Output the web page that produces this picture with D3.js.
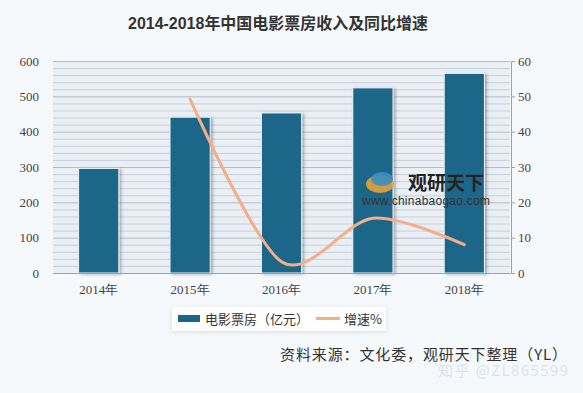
<!DOCTYPE html>
<html>
<head>
<meta charset="utf-8">
<script src="https://cdnjs.cloudflare.com/ajax/libs/d3/7.8.5/d3.min.js"></script>
<style>
  body { margin: 0; background: #f6f9fc; }
  svg { display: block; }
</style>
</head>
<body>
<div id="chart"></div>
<script>
'use strict';

var years = ['2014年', '2015年', '2016年', '2017年', '2018年'];
var boxOffice = [296, 441, 453, 524, 565];      // 亿元
var growth = [null, 49.2, 3.2, 15.5, 8];       // %
var leftTicks = [0, 100, 200, 300, 400, 500, 600];
var rightTicks = [0, 10, 20, 30, 40, 50, 60];

var width = 583, height = 393;
var margin = { top: 61, right: 73, bottom: 120, left: 53 };
var plotW = width - margin.left - margin.right;
var plotH = height - margin.top - margin.bottom;

var svg = d3.select('#chart').append('svg')
	.attr('width', width)
	.attr('height', height);

var defs = svg.append('defs');
var shadow = defs.append('filter').attr('id', 'shadow')
	.attr('x', '-20%').attr('y', '-10%').attr('width', '150%').attr('height', '130%');
shadow.append('feDropShadow')
	.attr('dx', 2).attr('dy', 1).attr('stdDeviation', 1.5)
	.attr('flood-color', '#555').attr('flood-opacity', 0.45);

var legShadow = defs.append('filter').attr('id', 'legShadow')
	.attr('x', '-10%').attr('y', '-30%').attr('width', '120%').attr('height', '170%');
legShadow.append('feDropShadow')
	.attr('dx', 0).attr('dy', 1).attr('stdDeviation', 2)
	.attr('flood-color', '#999').attr('flood-opacity', 0.35);

// title
svg.append('text')
	.attr('x', 278).attr('y', 29)
	.attr('text-anchor', 'middle')
	.attr('textLength', 300)
	.attr('lengthAdjust', 'spacingAndGlyphs')
	.style('font-family', '"Liberation Sans", "Noto Sans CJK SC", sans-serif')
	.style('font-size', '16px')
	.style('font-weight', 'bold')
	.style('fill', '#333')
	.text('2014-2018年中国电影票房收入及同比增速');

var g = svg.append('g').attr('transform', 'translate(' + margin.left + ',' + margin.top + ')');

var x = d3.scaleBand().domain(years).range([0, plotW]).paddingInner(0.56).paddingOuter(0.28);
var y = d3.scaleLinear().domain([0, 600]).range([plotH, 0]);
var y2 = d3.scaleLinear().domain([0, 60]).range([plotH, 0]);

// plot background
g.append('rect')
	.attr('width', plotW).attr('height', plotH)
	.style('fill', '#e9eff5');

// minor grid lines (every 20)
g.selectAll('line.minor')
	.data(d3.range(0, 601, 20))
	.enter().append('line')
	.attr('class', 'minor')
	.attr('x1', 0).attr('x2', plotW)
	.attr('y1', function(d) { return y(d) + 0.5; })
	.attr('y2', function(d) { return y(d) + 0.5; })
	.style('stroke', function(d) { return d % 100 === 0 ? '#b4bcc6' : '#c8d0d9'; })
	.style('stroke-width', 1);

// bars
g.selectAll('rect.bar')
	.data(boxOffice)
	.enter().append('rect')
	.attr('class', 'bar')
	.attr('x', function(d, i) { return x(years[i]); })
	.attr('y', function(d) { return y(d); })
	.attr('width', x.bandwidth())
	.attr('height', function(d) { return plotH - y(d); })
	.style('fill', '#1c6689')
	.style('stroke', '#f2f6f9')
	.style('stroke-width', 1)
	.attr('filter', 'url(#shadow)');

// watermark logo
var wm = svg.append('g').attr('transform', 'translate(365,172)');
wm.append('ellipse').attr('cx', 15).attr('cy', 12).attr('rx', 14).attr('ry', 9).style('fill', '#e9a23b').style('opacity', 0.9);
wm.append('ellipse').attr('cx', 17).attr('cy', 7).attr('rx', 11).attr('ry', 7).style('fill', '#3a8fc2').style('opacity', 0.9);
wm.append('text')
	.attr('x', 43).attr('y', 18)
	.attr('textLength', 76)
	.style('font-family', '"Noto Sans CJK SC", sans-serif')
	.style('font-size', '19px').style('font-weight', 'bold')
	.style('fill', '#222')
	.text('观研天下');
wm.append('text')
	.attr('x', -3).attr('y', 33)
	.attr('textLength', 128)
	.style('font-family', 'Arial, "Liberation Sans", sans-serif')
	.style('font-size', '12px')
	.style('fill', '#333')
	.text('www.chinabaogao.com');

// growth line
var lineData = growth.map(function(d, i) { return { year: years[i], v: d }; })
	.filter(function(d) { return d.v !== null; });
var line = d3.line()
	.x(function(d) { return x(d.year) + x.bandwidth() / 2; })
	.y(function(d) { return y2(d.v); })
	.curve(d3.curveCardinal.tension(0.1));
g.append('path')
	.datum(lineData)
	.attr('d', line)
	.style('fill', 'none')
	.style('stroke', '#f4ae88')
	.style('stroke-width', 3)
	.style('stroke-linecap', 'round');

// axes
var axisFont = '"Liberation Serif", "DejaVu Serif", serif';

var leftAxis = g.append('g')
	.call(d3.axisLeft(y).tickValues(leftTicks).tickSize(0).tickPadding(14));
leftAxis.select('.domain').remove();

var rightAxis = g.append('g')
	.attr('transform', 'translate(' + (plotW + 1) + ',0)')
	.call(d3.axisRight(y2).tickValues(rightTicks).tickSize(4).tickPadding(3));
rightAxis.select('.domain').attr('stroke', '#9aa3ad');
rightAxis.selectAll('.tick line').attr('stroke', '#9aa3ad');

var bottomAxis = g.append('g')
	.attr('transform', 'translate(0,' + plotH + ')')
	.call(d3.axisBottom(x).tickSize(0).tickPadding(12));
bottomAxis.select('.domain').attr('stroke', '#9aa3ad');

svg.selectAll('.tick text')
	.style('font-family', axisFont)
	.style('font-size', '13px')
	.style('fill', '#444');

// legend
var leg = svg.append('g').attr('transform', 'translate(172,307)');
leg.append('rect')
	.attr('width', 214).attr('height', 24)
	.style('fill', '#fff')
	.attr('filter', 'url(#legShadow)');
leg.append('rect')
	.attr('x', 6).attr('y', 8).attr('width', 22).attr('height', 7)
	.style('fill', '#1c6689');
leg.append('text')
	.attr('x', 33).attr('y', 17)
	.style('font-family', '"Noto Sans CJK SC", sans-serif')
	.style('font-size', '13px').style('fill', '#333')
	.text('电影票房（亿元）');
leg.append('line')
	.attr('x1', 144).attr('x2', 168).attr('y1', 11.5).attr('y2', 11.5)
	.style('stroke', '#f4ae88').style('stroke-width', 3);
leg.append('text')
	.attr('x', 172).attr('y', 17)
	.style('font-family', '"Noto Sans CJK SC", sans-serif')
	.style('font-size', '13px').style('fill', '#333')
	.text('增速%');

// zhihu watermark (drawn under the source text)
svg.append('text')
	.attr('x', 438).attr('y', 376)
	.attr('textLength', 130)
	.style('font-family', '"Noto Sans CJK SC", sans-serif')
	.style('font-size', '15px').style('fill', '#dde3ea')
	.text('知乎 @ZL865599');

// source
svg.append('text')
	.attr('x', 280).attr('y', 360)
	.attr('textLength', 287)
	.style('font-family', '"Noto Sans CJK SC", sans-serif')
	.style('font-size', '15px').style('fill', '#333')
	.text('资料来源：文化委，观研天下整理（YL）');
</script>
</body>
</html>
